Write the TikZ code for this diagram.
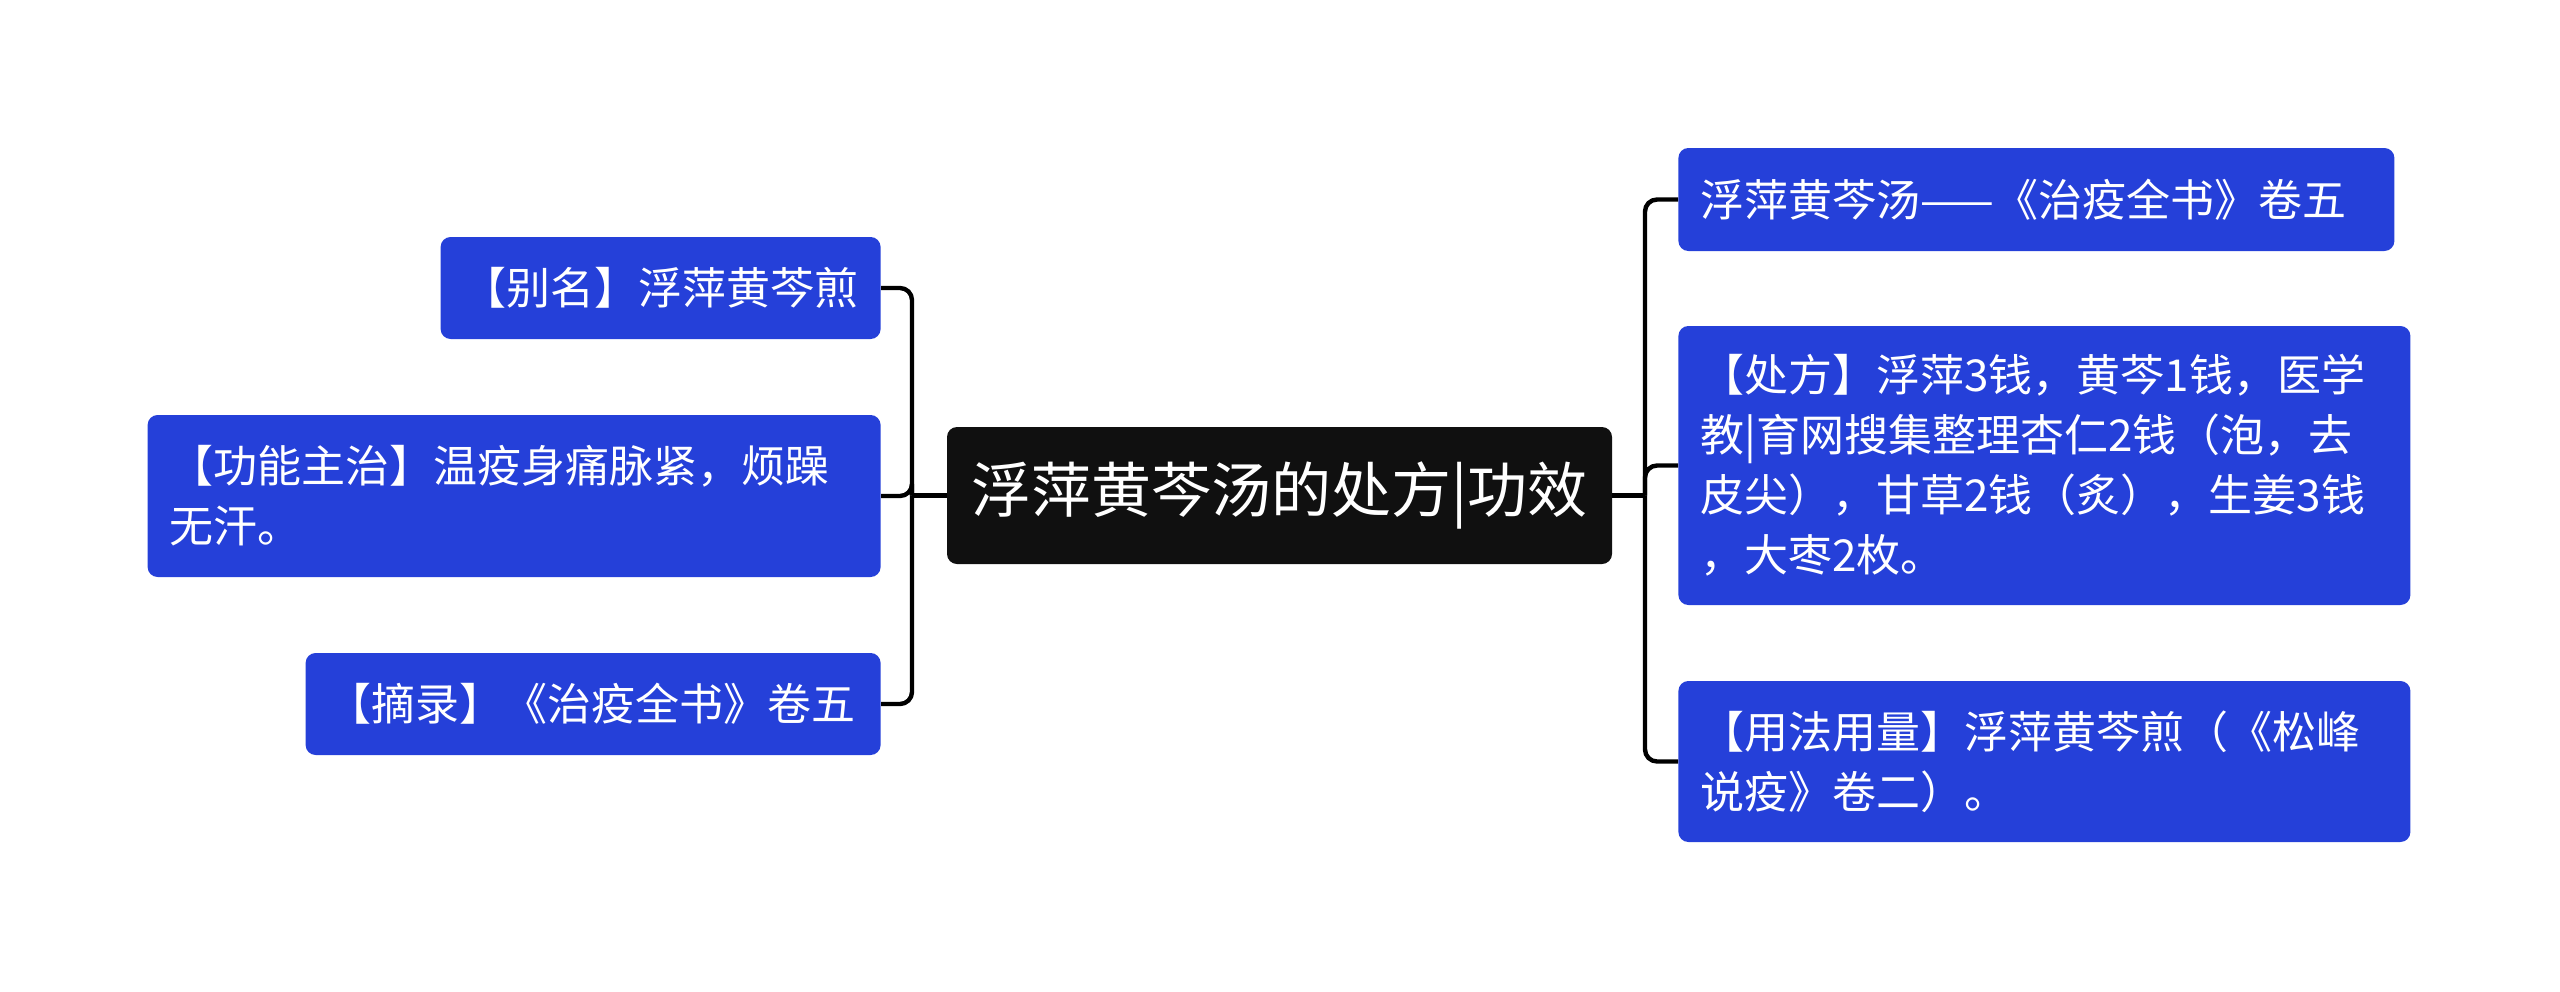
\documentclass[tikz,border=0pt]{standalone}
\usepackage{fontspec}
\setmainfont{Noto Sans CJK SC}
\usepackage{tikz}
\definecolor{topicblue}{HTML}{2540D9}
\definecolor{rootblack}{HTML}{101010}

\begin{document}
\begin{tikzpicture}[x=0.5pt, y=-0.5pt,
  rootbox/.style={fill=rootblack, text=white, rounded corners=5pt,
    minimum width=332.5pt, minimum height=68.5pt, font=\fontsize{30}{36}\selectfont},
  leafbox/.style={fill=topicblue, text=white, rounded corners=5pt, inner xsep=11pt,
    align=left, font=\fontsize{22}{30}\selectfont},
  link/.style={line width=2.2pt, rounded corners=6pt}]
  \useasboundingbox (0,0) rectangle (2560,991);
  % Central topic
  \node[rootbox] (root) at (1279.5,495.5) {浮萍黄芩汤的处方|功效};
  % Left branches
  \node[leafbox, anchor=east, text width=198pt, minimum height=51pt] (alias) at (881,288) {【别名】浮萍黄芩煎};
  \node[leafbox, anchor=east, text width=344.5pt, minimum height=81pt] (usage) at (881,496) {【功能主治】温疫身痛脉紧，烦躁\\无汗。};
  \node[leafbox, anchor=east, text width=265.5pt, minimum height=51pt] (source) at (881,704) {【摘录】《治疫全书》卷五};
  % Right branches
  \node[leafbox, anchor=west, text width=336pt, minimum height=51.5pt] (title) at (1678,199.5) {浮萍黄芩汤——《治疫全书》卷五};
  \node[leafbox, anchor=west, text width=344pt, minimum height=139.5pt] (recipe) at (1678,465.5) {【处方】浮萍3钱，黄芩1钱，医学\\教|育网搜集整理杏仁2钱（泡，去\\皮尖），甘草2钱（炙），生姜3钱\\，大枣2枚。};
  \node[leafbox, anchor=west, text width=344pt, minimum height=80.5pt] (dosage) at (1678,761.5) {【用法用量】浮萍黄芩煎（《松峰\\说疫》卷二）。};
  % Connectors
  \coordinate (ltrunk) at (912,495.5);
  \coordinate (rtrunk) at (1645,495.5);
  \draw[link] (root.west) -- (ltrunk);
  \draw[link] (root.east) -- (rtrunk);
  \draw[link] (ltrunk) |- (alias.east);
  \draw[link] (ltrunk) |- (usage.east);
  \draw[link] (ltrunk) |- (source.east);
  \draw[link] (rtrunk) |- (title.west);
  \draw[link] (rtrunk) |- (recipe.west);
  \draw[link] (rtrunk) |- (dosage.west);
\end{tikzpicture}
\end{document}
